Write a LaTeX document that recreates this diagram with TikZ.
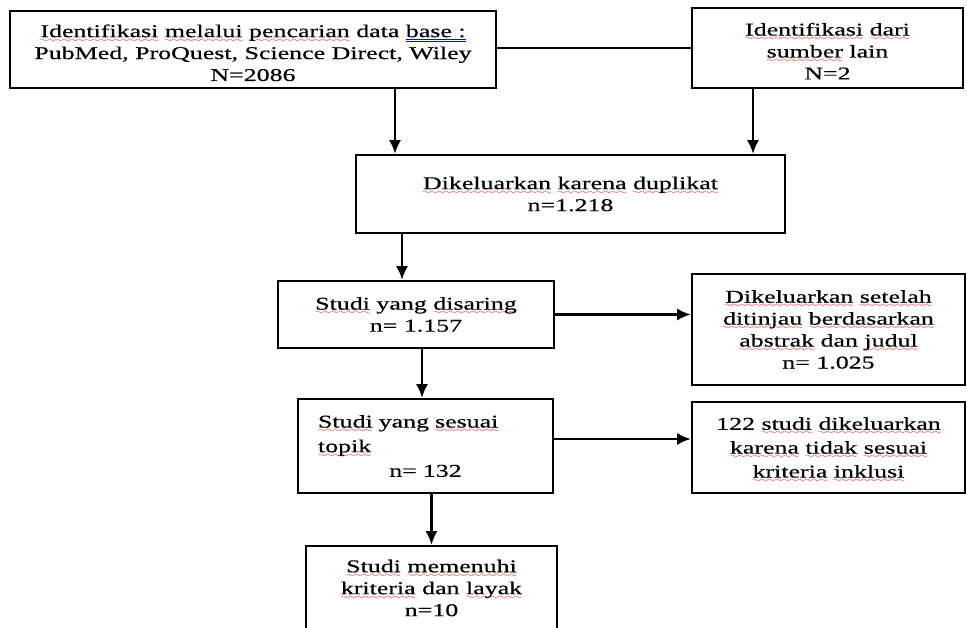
\documentclass[tikz,border=0pt]{standalone}
\usepackage{fontspec}
\setmainfont[FakeStretch=1.44, FakeBold=0.5]{Liberation Serif}
\usetikzlibrary{arrows.meta}
\font\gelombang=lasy6
\newcommand\sal[1]{\setbox0\hbox{#1}\leavevmode
    \rlap{\smash{\raisebox{-3.5pt}{\textcolor{red}{\hbox to \wd0{\xleaders\hbox{\gelombang\char58}\hfill}}}}}\box0\relax}
\newcommand\biru[1]{\setbox0\hbox{#1}\leavevmode
    \rlap{\smash{\raisebox{-3pt}{\textcolor{blue}{\vbox{\hrule width\wd0 height 0.5pt\kern1pt\hrule width\wd0 height 0.5pt}}}}}\box0\relax}

\begin{document}
\begin{tikzpicture}[
        kotak/.style={draw, line width=1.7pt, align=center, inner sep=0pt,
            font=\fontsize{12.8}{15.6}\selectfont},
        panah/.style={line width=1.5pt, -{Latex[length=3.4mm, width=3mm]}},
        garis/.style={line width=1.5pt}]
        \useasboundingbox (0, 0) rectangle (24.175, -15.7);
        \node [kotak, minimum width=12.15cm, minimum height=1.925cm] (cari) at (6.325, -1.2375)
            {\rule{0pt}{13.7pt}\sal{Identifikasi} \sal{melalui} \sal{pencarian} data \biru{base :}\\
             PubMed, ProQuest, Science Direct, Wiley\\ N=2086};
        \node [kotak, minimum width=6.775cm, minimum height=2.0cm] (lain) at (20.6875, -1.2)
            {\rule{0pt}{13.5pt}\sal{Identifikasi} \sal{dari}\\ \sal{sumber} lain\\ N=2};
        \node [kotak, minimum width=10.725cm, minimum height=1.95cm] (duplikat) at (14.2625, -4.85)
            {\sal{Dikeluarkan} \sal{karena} \sal{duplikat}\\ n=1.218};
        \node [kotak, minimum width=6.9cm, minimum height=1.675cm] (saring) at (10.4, -7.8625)
            {\sal{Studi} yang \sal{disaring}\\ n= 1.157};
        \node [kotak, minimum width=6.825cm, minimum height=2.775cm] (abstrak) at (20.7125, -8.2375)
            {\sal{Dikeluarkan} \sal{setelah}\\ \sal{ditinjau} \sal{berdasarkan}\\
             \sal{abstrak} dan \sal{judul}\\ n= 1.025};
        \node [kotak, minimum width=6.375cm, minimum height=2.35cm] (topik) at (10.6375, -11.15) {};
        \node [font=\fontsize{12.8}{17.5}\selectfont, text width=5.375cm, align=left, inner sep=0pt]
            (topikteks) at (topik) {\sal{Studi} yang \sal{sesuai}\\ \sal{topik}\par{\centering n= 132\par}};
        \node [kotak, minimum width=6.825cm, minimum height=2.275cm, font=\fontsize{12.8}{17}\selectfont]
            (inklusi) at (20.7125, -11.1875)
            {122 \sal{studi} \sal{dikeluarkan}\\ \sal{karena} \sal{tidak} \sal{sesuai}\\
             \sal{kriteria} \sal{inklusi}};
        \node [kotak, minimum width=6.275cm, minimum height=2.1cm] (layak) at (10.7875, -14.7)
            {\sal{Studi} \sal{memenuhi}\\ \sal{kriteria} dan \sal{layak}\\ n=10};
        \draw [garis] (lain.west -| cari.east) -- (lain.west);
        \draw [panah] ([xshift=3.55cm]cari.south) -- ([xshift=3.55cm]cari.south |- duplikat.north);
        \draw [panah] ([xshift=-1.8625cm]lain.south) -- ([xshift=-1.8625cm]lain.south |- duplikat.north);
        \draw [panah] ([xshift=-4.2125cm]duplikat.south) -- ([xshift=-4.2125cm]duplikat.south |- saring.north);
        \draw [panah] (saring.east) -- (saring.east -| abstrak.west);
        \draw [panah] ([xshift=0.15cm]saring.south) -- ([xshift=0.15cm]saring.south |- topik.north);
        \draw [panah] ([yshift=0.175cm]topik.east) -- ([yshift=0.175cm]topik.east -| inklusi.west);
        \draw [panah] (topik.south -| layak.north) -- (layak.north);
    \end{tikzpicture}
\end{document}
